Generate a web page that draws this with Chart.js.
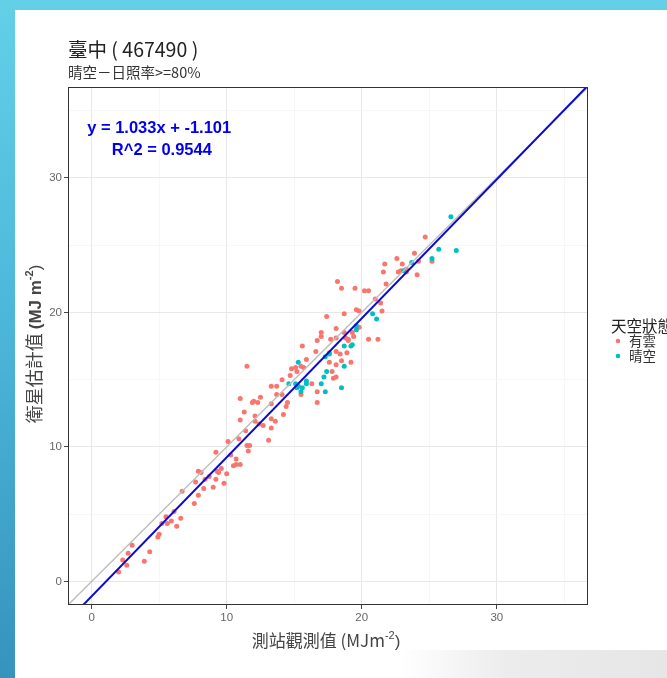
<!DOCTYPE html>
<html>
<head>
<meta charset="utf-8">
<script src="https://cdn.jsdelivr.net/npm/chart.js@4"></script>
<style>
  html, body { margin: 0; padding: 0; }
  body {
    width: 667px; height: 678px; overflow: hidden; position: relative;
    background: linear-gradient(to bottom, #63d0e8 0%, #4bb5d8 50%, #3693bd 100%);
  }
  #panel {
    position: absolute; left: 15px; top: 10px; width: 652px; height: 668px;
    background: #fff;
  }
  #shade {
    position: absolute; left: 400px; top: 650px; right: 0; bottom: 0;
    background: linear-gradient(to right, rgba(236,236,236,0) 0%, #ececec 40%, #e6e6e6 100%);
  }
  #chart { position: absolute; left: 0; top: 0; }
</style>
</head>
<body>
<div id="panel"><canvas id="chart" width="652" height="668"></canvas></div>
<div id="shade"></div>
<script>
// station observed (x) vs satellite estimate (y), MJ m^-2
const cloudyObs = [2.0, 2.3, 2.6, 2.7, 3.0, 3.9, 4.3, 4.9, 5.0, 5.2, 5.5, 5.6, 5.9, 6.1, 6.3, 6.6, 6.7, 7.6, 7.7, 7.9,
  8.3, 8.1, 8.7, 9.0, 9.2, 9.4, 9.8, 10.0, 7.9, 8.4, 9.2, 9.3, 9.6, 10.1, 10.3, 10.5, 10.7, 11.0, 10.7, 10.9,
  11.0, 11.0, 11.3, 11.4, 11.5, 11.7, 11.6, 11.9, 12.1, 12.3, 12.5, 12.1, 12.4, 12.7, 13.1, 13.3, 13.3, 13.6, 13.3, 13.3,
  13.7, 13.7, 14.1, 14.2, 14.4, 14.5, 11.5, 12.0, 14.1, 14.7, 14.8, 15.1, 15.2, 15.7, 15.9, 15.6, 16.6, 16.7, 17.0, 17.0,
  17.4, 17.7, 17.6, 17.6, 17.8, 17.9, 16.7, 16.7, 18.7, 18.1, 18.9, 18.1, 18.2, 18.5, 18.7, 19.0, 19.3, 19.4, 19.5, 19.6,
  19.8, 19.8, 20.2, 20.5, 20.5, 21.2, 21.0, 21.4, 21.5, 21.6, 21.8, 21.7, 22.6, 22.7, 23.0, 23.3, 23.3, 23.9, 24.1, 24.2,
  24.7, 25.2, 18.5, 18.4, 19.2, 19.0, 22.9, 15.5, 16.3, 15.5, 18.1, 18.1, 18.1, 18.8];
const cloudySat = [0.7, 1.6, 1.2, 2.1, 2.7, 1.5, 2.2, 3.3, 3.5, 4.3, 4.8, 4.3, 4.5, 5.2, 4.1, 4.7, 6.7, 5.8, 7.4, 6.4,
  6.9, 8.1, 7.8, 7.0, 7.6, 8.1, 7.3, 8.0, 8.2, 7.6, 9.6, 8.2, 8.4, 10.4, 9.4, 8.6, 8.7, 8.7, 9.1, 10.6,
  13.6, 12.0, 12.6, 11.2, 10.1, 10.1, 9.7, 13.3, 12.3, 13.3, 13.7, 11.9, 11.7, 11.6, 10.5, 11.4, 12.1, 11.9, 13.2, 14.5,
  14.5, 13.9, 13.9, 12.4, 13.0, 13.3, 16.0, 13.4, 15.0, 15.3, 15.8, 15.9, 15.6, 15.9, 16.5, 17.5, 17.1, 17.9, 18.5, 18.2,
  19.7, 18.0, 17.0, 16.3, 15.6, 15.1, 14.1, 13.3, 19.9, 17.1, 17.0, 16.1, 22.3, 21.8, 18.5, 18.0, 18.5, 18.2, 21.8, 20.2,
  20.1, 18.9, 21.6, 21.6, 18.0, 18.0, 21.0, 20.7, 20.1, 23.0, 22.1, 23.6, 24.0, 23.0, 23.6, 23.0, 23.2, 24.4, 22.8, 23.8,
  25.6, 23.8, 16.4, 16.9, 16.3, 17.9, 23.1, 13.9, 14.7, 16.0, 15.2, 18.1, 18.8, 18.1];
const clearObs = [14.6, 15.1, 15.3, 15.3, 15.6, 15.9, 15.9, 15.2, 15.5, 17.3, 17.4, 17.2, 17.0, 17.3, 18.5,
  18.7, 19.2, 19.3, 18.7, 17.6, 19.6, 19.6, 20.8, 21.1, 23.1, 23.7, 25.2, 25.7, 26.6, 27.0];
const clearSat = [14.7, 14.7, 16.3, 14.5, 14.4, 14.7, 14.9, 14.4, 14.1, 16.7, 15.6, 15.2, 14.7, 14.1, 14.4,
  17.5, 17.5, 17.6, 16.0, 16.9, 19.0, 18.7, 19.9, 19.5, 23.1, 23.7, 24.0, 24.7, 27.1, 24.6];

const axisMin = -1.75, axisMax = 36.75;
const gridValues = [0, 5, 10, 15, 20, 25, 30, 35];
const tickLabels = [0, 10, 20, 30];
const slope = 1.033, intercept = -1.101, r2 = 0.9544;
const fitText = 'y = ' + slope + 'x + ' + intercept;
const r2Text = 'R^2 = ' + r2;

const sans = '"Liberation Sans", "Noto Sans CJK TC", sans-serif';
const cjk = '"Noto Sans CJK TC", "Liberation Sans", sans-serif';

function pairs(xs, ys) {
  return xs.map((x, i) => ({ x: x, y: ys[i] }));
}

function axisOptions(side) {
  return {
    type: 'linear',
    min: axisMin,
    max: axisMax,
    afterBuildTicks: s => { s.ticks = gridValues.map(v => ({ value: v })); },
    afterFit: s => {
      if (side === 'y') s.width = 53; else s.height = 73;
    },
    border: { display: false },
    grid: {
      color: c => tickLabels.includes(c.tick.value) ? '#e8e8e8' : '#f3f3f3',
      lineWidth: c => tickLabels.includes(c.tick.value) ? 1 : 0.7,
      tickColor: c => tickLabels.includes(c.tick.value) ? '#444' : 'rgba(0,0,0,0)',
      tickLength: 4,
      tickWidth: 1
    },
    ticks: {
      autoSkip: false,
      maxRotation: 0,
      padding: 2,
      color: '#666',
      font: { family: sans, size: 11.5 },
      callback: v => tickLabels.includes(v) ? String(v) : ''
    }
  };
}

// draws a row of text pieces centered at 0,0 (after transform)
function drawPieces(ctx, pieces) {
  let total = 0;
  pieces.forEach(p => { ctx.font = p.font; p.w = ctx.measureText(p.text).width; total += p.w; });
  let x = -total / 2;
  pieces.forEach(p => {
    ctx.font = p.font;
    ctx.fillText(p.text, x, p.dy || 0);
    x += p.w;
  });
}

const decor = {
  id: 'decor',
  afterDraw(chart) {
    const ctx = chart.ctx;
    const a = chart.chartArea;
    const xs = chart.scales.x, ys = chart.scales.y;
    ctx.save();

    // panel border
    ctx.strokeStyle = '#333';
    ctx.lineWidth = 1;
    ctx.strokeRect(a.left + 0.5, a.top + 0.5, a.right - a.left - 1, a.bottom - a.top - 1);

    // regression annotation
    ctx.fillStyle = '#0000ee';
    ctx.textAlign = 'center';
    ctx.textBaseline = 'middle';
    ctx.font = 'bold 16.5px ' + sans;
    ctx.fillText(fitText, xs.getPixelForValue(5.0), ys.getPixelForValue(33.7));
    ctx.fillText(r2Text, xs.getPixelForValue(5.2), ys.getPixelForValue(32.0));

    // titles
    ctx.textAlign = 'left';
    ctx.textBaseline = 'alphabetic';
    ctx.fillStyle = '#222';
    ctx.font = '19.5px ' + cjk;
    ctx.fillText('臺中 ( 467490 )', a.left, 47);
    ctx.font = '14.5px ' + cjk;
    ctx.fillStyle = '#333';
    ctx.fillText('晴空－日照率>=80%', a.left, 68);

    // x axis title
    ctx.fillStyle = '#444';
    ctx.save();
    ctx.translate((a.left + a.right) / 2 - 2, 637);
    drawPieces(ctx, [
      { text: '測站觀測值 (MJm', font: '17px ' + cjk },
      { text: '-2', font: '11px ' + sans, dy: -8 },
      { text: ')', font: '17px ' + sans }
    ]);
    ctx.restore();

    // y axis title
    ctx.save();
    ctx.translate(26, (a.top + a.bottom) / 2 - 2);
    ctx.rotate(-Math.PI / 2);
    drawPieces(ctx, [
      { text: '衛星估計值 ', font: '18px ' + cjk },
      { text: '(MJ m', font: 'bold 17px ' + sans },
      { text: '-2', font: 'bold 11px ' + sans, dy: -8 },
      { text: ')', font: '17px ' + sans }
    ]);
    ctx.restore();

    // legend
    ctx.textAlign = 'left';
    ctx.textBaseline = 'middle';
    ctx.fillStyle = '#222';
    ctx.font = '15.5px ' + cjk;
    ctx.fillText('天空狀態', 596, 316);
    const items = [['有雲', '#F8766D', 331], ['晴空', '#00BFC4', 346]];
    items.forEach(it => {
      ctx.fillStyle = it[1];
      ctx.beginPath();
      ctx.arc(603, it[2], 2.3, 0, Math.PI * 2);
      ctx.fill();
      ctx.fillStyle = '#333';
      ctx.font = '13.5px ' + cjk;
      ctx.fillText(it[0], 614, it[2]);
    });
    ctx.restore();
  }
};

new Chart(document.getElementById('chart'), {
  type: 'scatter',
  data: {
    datasets: [
      {
        label: '有雲',
        data: pairs(cloudyObs, cloudySat),
        backgroundColor: '#F8766D',
        borderWidth: 0,
        pointRadius: 2.5,
        order: 3
      },
      {
        label: '晴空',
        data: pairs(clearObs, clearSat),
        backgroundColor: '#00BFC4',
        borderWidth: 0,
        pointRadius: 2.5,
        order: 2
      },
      {
        type: 'line',
        label: '1:1',
        data: [{ x: axisMin, y: axisMin }, { x: axisMax, y: axisMax }],
        borderColor: '#bdbdbd',
        borderWidth: 1.4,
        pointRadius: 0,
        clip: 0,
        order: 1
      },
      {
        type: 'line',
        label: 'fit',
        data: [axisMin, axisMax].map(x => ({ x: x, y: slope * x + intercept })),
        borderColor: '#0a0ad0',
        borderWidth: 2,
        pointRadius: 0,
        clip: 0,
        order: 0
      }
    ]
  },
  options: {
    responsive: false,
    animation: false,
    layout: { padding: { left: 0, top: 77, right: 79, bottom: 0 } },
    plugins: {
      legend: { display: false },
      tooltip: { enabled: false },
      title: { display: false }
    },
    scales: {
      x: axisOptions('x'),
      y: axisOptions('y')
    }
  },
  plugins: [decor]
});
</script>
</body>
</html>
